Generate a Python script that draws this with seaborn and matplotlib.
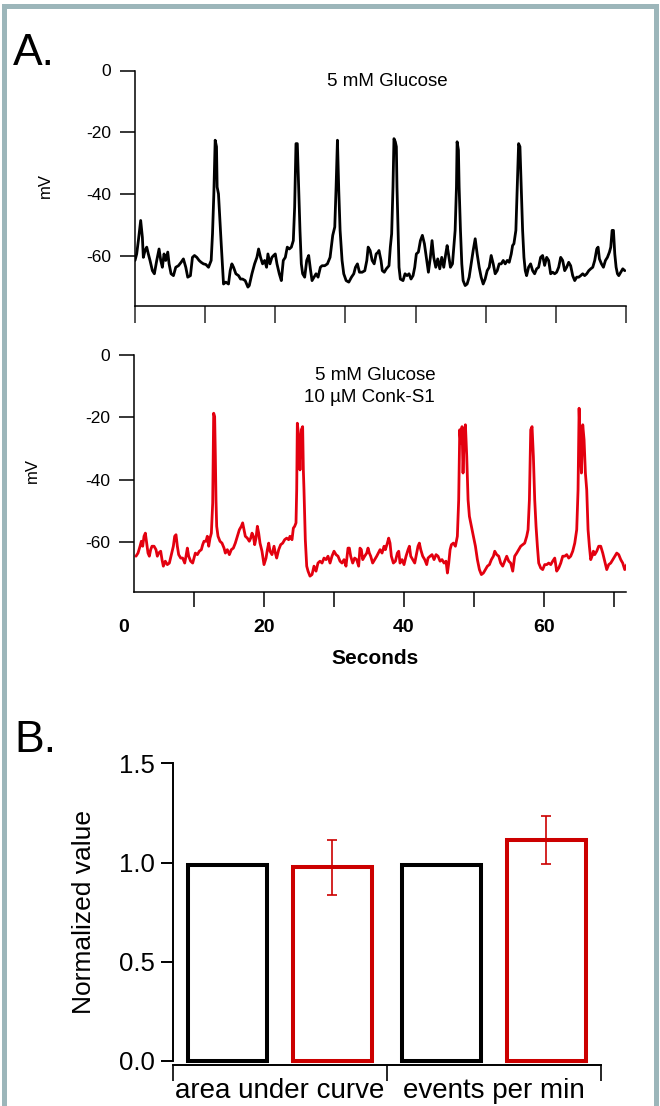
import numpy as np
import pandas as pd
import seaborn as sns
import matplotlib.pyplot as plt
from matplotlib.patches import Rectangle

# ---- data ----
# panel A, top trace: 5 mM glucose (seconds, mV)
glu_t = [0.00, 0.24, 0.48, 0.81, 1.05, 1.19, 1.43, 1.67, 1.90, 2.14,
         2.48, 2.76, 3.10, 3.43, 3.67, 3.90, 4.14, 4.38, 4.67, 4.86,
         5.14, 5.48, 5.81, 6.19, 6.57, 6.90, 7.24, 7.52, 7.90, 8.19,
         8.48, 8.81, 9.14, 9.43, 9.76, 10.10, 10.48, 10.86, 11.05, 11.24,
         11.43, 11.62, 11.71, 11.90, 12.10, 12.29, 12.48, 12.62, 12.95, 13.33,
         13.57, 13.81, 14.05, 14.38, 14.76, 15.05, 15.33, 15.71, 16.10, 16.29,
         16.67, 17.05, 17.38, 17.62, 17.90, 18.19, 18.48, 18.76, 18.95, 19.24,
         19.52, 19.76, 20.00, 20.24, 20.57, 20.86, 21.14, 21.43, 21.71, 22.00,
         22.29, 22.57, 22.76, 22.95, 23.14, 23.33, 23.52, 23.71, 23.90, 24.19,
         24.48, 24.76, 25.00, 25.24, 25.52, 25.81, 26.10, 26.43, 26.67, 27.05,
         27.43, 27.81, 28.19, 28.48, 28.67, 28.86, 29.05, 29.24, 29.52, 29.76,
         30.10, 30.48, 30.86, 31.19, 31.43, 31.71, 32.00, 32.38, 32.76, 33.05,
         33.24, 33.52, 33.81, 34.10, 34.38, 34.67, 34.78, 35.07, 35.26, 35.54,
         35.83, 36.21, 36.40, 36.59, 36.78, 36.92, 37.11, 37.26, 37.35, 37.50,
         37.64, 37.83, 38.21, 38.50, 38.78, 39.07, 39.35, 39.64, 39.88, 40.11,
         40.40, 40.69, 40.97, 41.26, 41.54, 41.83, 42.11, 42.35, 42.59, 42.88,
         43.16, 43.45, 43.73, 44.02, 44.30, 44.50, 44.69, 44.97, 45.26, 45.45,
         45.64, 45.83, 45.92, 46.11, 46.21, 46.40, 46.59, 46.78, 47.07, 47.35,
         47.64, 47.92, 48.21, 48.50, 48.78, 49.07, 49.35, 49.64, 49.92, 50.21,
         50.50, 50.78, 51.07, 51.35, 51.64, 51.92, 52.21, 52.50, 52.78, 53.07,
         53.35, 53.64, 53.83, 54.02, 54.30, 54.50, 54.69, 54.88, 55.07, 55.26,
         55.45, 55.64, 55.83, 56.11, 56.40, 56.69, 56.97, 57.26, 57.54, 57.83,
         58.11, 58.40, 58.69, 58.97, 59.26, 59.54, 59.83, 60.11, 60.40, 60.69,
         60.97, 61.26, 61.54, 61.83, 62.11, 62.40, 62.69, 62.97, 63.26, 63.54,
         63.83, 64.11, 64.40, 64.69, 64.97, 65.26, 65.54, 65.83, 66.02, 66.21,
         66.50, 66.78, 67.07, 67.35, 67.64, 67.83, 68.02, 68.21, 68.40, 68.59,
         68.78, 68.97, 69.26, 69.54, 69.83]
glu_mv = [-61.3, -59.2, -54.9, -48.4, -53.8, -60.3, -58.1, -57.0, -59.2, -61.3,
          -64.6, -65.6, -61.3, -57.6, -61.3, -63.5, -59.2, -61.3, -58.6, -62.4,
          -65.6, -66.2, -63.5, -63.0, -61.9, -60.8, -63.5, -66.7, -66.2, -60.3,
          -59.7, -60.3, -61.3, -61.9, -62.4, -62.6, -63.5, -61.3, -52.7, -39.8,
          -22.5, -24.6, -37.6, -39.8, -48.4, -55.9, -63.5, -68.9, -68.3, -68.9,
          -64.6, -62.4, -63.5, -65.6, -66.2, -67.3, -67.3, -67.8, -69.9, -69.4,
          -65.6, -62.4, -60.3, -57.6, -60.3, -62.4, -61.3, -63.5, -59.2, -62.4,
          -60.3, -59.7, -59.2, -62.4, -65.6, -67.8, -61.3, -60.3, -57.0, -57.6,
          -57.0, -54.9, -44.1, -23.6, -23.6, -37.6, -51.6, -62.4, -65.6, -66.7,
          -61.3, -59.7, -64.0, -67.8, -66.7, -65.6, -66.7, -63.5, -63.0, -63.0,
          -62.4, -60.3, -53.2, -50.5, -37.6, -22.5, -38.7, -51.6, -61.3, -65.6,
          -67.8, -68.3, -66.7, -65.6, -63.5, -62.4, -65.1, -65.1, -64.6, -61.3,
          -57.0, -58.1, -61.3, -62.4, -59.2, -58.6, -58.1, -61.3, -64.6, -65.1,
          -64.0, -63.0, -57.0, -52.7, -37.6, -22.0, -23.0, -24.6, -37.6, -51.6,
          -63.5, -67.3, -67.8, -65.6, -66.2, -65.6, -67.3, -66.2, -63.5, -59.2,
          -58.6, -54.9, -53.2, -55.9, -60.3, -65.1, -60.3, -54.9, -60.3, -63.5,
          -60.8, -64.0, -60.3, -63.5, -59.2, -56.5, -59.2, -63.5, -62.4, -57.0,
          -51.6, -37.6, -23.0, -25.7, -37.6, -51.6, -62.4, -67.8, -69.4, -68.9,
          -66.7, -62.4, -58.1, -54.3, -59.2, -63.5, -66.7, -68.9, -67.3, -64.6,
          -63.5, -59.7, -62.4, -65.6, -64.6, -62.4, -62.4, -61.3, -62.4, -61.3,
          -61.9, -59.2, -56.5, -55.9, -51.6, -37.6, -23.6, -24.6, -37.6, -51.6,
          -60.3, -64.6, -66.2, -63.5, -62.4, -64.6, -65.6, -64.0, -63.5, -60.3,
          -59.7, -62.9, -60.3, -61.3, -65.6, -65.1, -65.6, -65.1, -63.5, -60.3,
          -61.3, -64.6, -63.5, -61.9, -63.0, -66.2, -67.8, -66.7, -66.7, -66.2,
          -65.6, -66.2, -65.6, -64.6, -64.0, -63.5, -61.3, -57.6, -57.0, -60.8,
          -62.4, -63.5, -61.3, -60.3, -58.6, -57.0, -51.6, -51.6, -59.2, -63.5,
          -65.6, -66.2, -65.1, -64.0, -64.6]

# panel A, bottom trace: 5 mM glucose + 10 uM Conk-S1 (seconds, mV)
conk_t = [1.71, 2.00, 2.29, 2.48, 2.67, 2.86, 3.05, 3.24, 3.43, 3.62,
          3.81, 4.00, 4.29, 4.57, 4.76, 4.95, 5.24, 5.43, 5.62, 5.90,
          6.19, 6.48, 6.76, 7.05, 7.24, 7.43, 7.62, 7.81, 8.10, 8.38,
          8.67, 8.86, 9.05, 9.24, 9.52, 9.81, 10.00, 10.19, 10.48, 10.76,
          11.05, 11.24, 11.43, 11.71, 11.90, 12.10, 12.29, 12.48, 12.67, 12.81,
          12.95, 13.05, 13.14, 13.24, 13.43, 13.71, 14.00, 14.29, 14.48, 14.76,
          15.05, 15.33, 15.62, 15.90, 16.19, 16.48, 16.76, 16.95, 17.14, 17.33,
          17.62, 17.90, 18.10, 18.29, 18.48, 18.67, 18.86, 19.05, 19.24, 19.43,
          19.71, 20.00, 20.29, 20.48, 20.67, 20.86, 21.14, 21.43, 21.62, 21.81,
          22.10, 22.38, 22.67, 22.95, 23.24, 23.52, 23.71, 24.00, 24.19, 24.38,
          24.57, 24.67, 24.76, 24.95, 25.14, 25.33, 25.52, 25.62, 25.71, 25.90,
          26.10, 26.29, 26.57, 26.86, 27.14, 27.43, 27.71, 28.00, 28.29, 28.57,
          28.86, 29.14, 29.43, 29.71, 30.00, 30.29, 30.57, 30.86, 31.14, 31.43,
          31.71, 32.00, 32.19, 32.38, 32.67, 32.95, 33.24, 33.52, 33.71, 33.90,
          34.10, 34.38, 34.67, 34.86, 35.05, 35.24, 35.52, 35.81, 36.10, 36.58,
          36.86, 37.15, 37.34, 37.62, 37.81, 38.00, 38.19, 38.48, 38.77, 39.05,
          39.24, 39.43, 39.72, 40.00, 40.29, 40.58, 40.77, 40.96, 41.24, 41.53,
          41.81, 42.00, 42.19, 42.39, 42.67, 42.96, 43.24, 43.43, 43.72, 44.00,
          44.29, 44.58, 44.86, 45.15, 45.43, 45.72, 46.00, 46.20, 46.39, 46.58,
          46.77, 47.05, 47.34, 47.62, 47.81, 47.96, 48.10, 48.29, 48.43, 48.58,
          48.77, 48.96, 49.15, 49.34, 49.62, 49.91, 50.20, 50.48, 50.77, 51.05,
          51.34, 51.62, 51.91, 52.20, 52.48, 52.77, 52.96, 53.24, 53.53, 53.81,
          54.10, 54.39, 54.67, 54.96, 55.24, 55.53, 55.81, 56.10, 56.39, 56.67,
          56.96, 57.24, 57.53, 57.72, 57.91, 58.10, 58.29, 58.48, 58.67, 58.86,
          59.05, 59.24, 59.53, 59.81, 60.10, 60.39, 60.67, 60.96, 61.24, 61.53,
          61.81, 62.10, 62.39, 62.67, 62.96, 63.24, 63.53, 63.81, 64.10, 64.39,
          64.67, 64.86, 65.01, 65.15, 65.34, 65.53, 65.72, 65.91, 66.10, 66.29,
          66.48, 66.67, 66.86, 67.05, 67.24, 67.53, 67.81, 68.10, 68.39, 68.67,
          68.96, 69.24, 69.53, 69.82, 70.10, 70.39, 70.67, 70.96, 71.24, 71.53,
          71.81]
conk_mv = [-64.6, -63.6, -61.4, -59.8, -61.4, -58.2, -57.2, -60.4, -63.6, -64.6,
           -62.5, -61.4, -61.4, -62.5, -64.6, -63.6, -63.0, -65.7, -67.8, -66.2,
           -67.3, -66.8, -64.1, -61.4, -58.2, -57.7, -61.4, -64.1, -65.2, -65.2,
           -66.8, -64.6, -62.0, -64.6, -66.2, -66.8, -65.2, -63.6, -64.1, -63.0,
           -62.5, -60.9, -59.8, -59.8, -58.2, -61.4, -58.8, -57.2, -47.5, -18.7,
           -19.8, -32.6, -46.5, -55.0, -58.2, -59.8, -60.4, -62.0, -63.6, -62.5,
           -64.1, -62.5, -62.0, -60.4, -58.2, -56.1, -55.0, -53.9, -56.1, -58.2,
           -58.8, -59.8, -58.8, -57.2, -58.2, -60.9, -58.8, -55.0, -57.2, -60.4,
           -63.0, -67.3, -65.2, -62.5, -60.4, -63.0, -64.1, -61.4, -63.6, -65.2,
           -62.5, -60.9, -60.4, -59.3, -58.8, -59.3, -58.2, -59.3, -55.6, -55.0,
           -53.9, -43.3, -21.9, -26.2, -36.9, -24.0, -23.0, -36.9, -43.3, -59.3,
           -67.8, -69.4, -71.0, -70.5, -67.8, -69.4, -66.8, -66.2, -66.8, -65.2,
           -65.7, -64.6, -66.8, -64.6, -63.0, -64.1, -64.6, -66.2, -66.8, -65.7,
           -67.8, -62.0, -62.0, -64.6, -66.8, -65.2, -65.7, -67.8, -62.0, -62.5,
           -65.7, -64.6, -63.6, -62.0, -63.6, -64.6, -66.8, -65.7, -64.6, -62.5,
           -63.6, -61.4, -62.5, -60.4, -58.8, -60.4, -64.6, -66.8, -66.2, -63.6,
           -63.0, -66.8, -65.7, -67.3, -64.6, -62.5, -61.4, -64.6, -65.7, -66.8,
           -63.6, -61.4, -60.4, -62.5, -64.6, -65.7, -67.3, -65.2, -64.6, -64.1,
           -65.7, -64.1, -64.6, -66.2, -65.7, -66.8, -66.2, -70.0, -66.8, -62.5,
           -60.9, -60.4, -61.4, -58.2, -46.5, -24.0, -28.3, -23.0, -37.9, -27.2,
           -22.4, -32.6, -46.5, -51.8, -55.0, -58.2, -61.4, -65.7, -68.9, -70.5,
           -70.0, -68.9, -67.8, -67.3, -65.7, -64.6, -63.0, -64.1, -64.6, -66.8,
           -67.8, -66.2, -64.6, -66.2, -66.8, -69.4, -64.6, -63.6, -62.5, -61.4,
           -60.9, -60.4, -58.2, -56.1, -46.5, -24.0, -23.0, -32.6, -46.5, -55.0,
           -61.4, -66.8, -68.4, -68.9, -67.3, -67.3, -66.8, -67.3, -66.2, -65.2,
           -69.4, -68.4, -66.8, -64.6, -64.6, -64.1, -65.2, -64.6, -63.0, -60.4,
           -56.1, -43.3, -17.1, -27.2, -37.9, -22.4, -27.2, -37.9, -43.3, -56.1,
           -61.4, -65.7, -64.6, -63.0, -64.1, -63.0, -61.4, -61.4, -63.6, -66.2,
           -68.9, -67.3, -66.8, -65.7, -64.6, -63.6, -64.1, -65.7, -66.8, -68.9,
           -67.3]

# panel B: normalized summary values
measures = ["area under curve", "events per min"]
conditions = ["5 mM Glucose", "10 µM Conk-S1"]
glucose_mean = [0.99, 0.99]
glucose_sem = [0.005, 0.005]
conk_mean = [0.975, 1.115]
conk_sem = [0.137, 0.12]

mv_ticks = [0, -20, -40, -60]
bar_ticks = [0.0, 0.5, 1.0, 1.5]

assert len(glu_t) == len(glu_mv) and len(conk_t) == len(conk_mv)

# ---- style ----
sns.set_theme(style="ticks")
plt.rcParams['font.family'] = ['Liberation Sans', 'DejaVu Sans']
plt.rcParams['axes.unicode_minus'] = False

black = "#000000"
trace_red = "#e3000f"
bar_red = "#cc0000"
frame_col = "#9cb6ba"

W, H = 660, 1106
fig = plt.figure(figsize=(W / 100, H / 100), dpi=100)


def px_axes(left, top, right, bottom):
    return fig.add_axes([left / W, 1 - bottom / H, (right - left) / W, (bottom - top) / H])


def style_trace_axes(ax):
    for s in ["top", "right"]:
        ax.spines[s].set_visible(False)
    for s in ["left", "bottom"]:
        ax.spines[s].set_linewidth(1.1)
        ax.spines[s].set_color(black)
    ax.set_ylim(-76, 0)
    ax.set_yticks(mv_ticks)
    ax.set_yticklabels([str(v) for v in mv_ticks])
    ax.tick_params(axis="y", direction="out", length=11, width=1.1,
                   labelsize=12.5, pad=6, colors=black)
    ax.set_ylabel("mV", fontsize=12, color=black)
    ax.yaxis.set_label_coords(-0.168, 0.51)


# ---- panel A top ----
ax1 = px_axes(135, 70.5, 626, 306)
sns.lineplot(x=glu_t, y=glu_mv, ax=ax1, color=black, lw=2.0,
             sort=False, estimator=None)
ax1.set_xlim(0, 70)
style_trace_axes(ax1)
ax1.set_xticks(range(0, 71, 10))
ax1.tick_params(axis="x", direction="out", length=12, width=1.1, labelbottom=False)
ax1.set_xlabel("")
ax1.text(36, -3.6, "5 mM Glucose", fontsize=13.5, ha="center", va="center", color=black)

# ---- panel A bottom ----
ax2 = px_axes(124, 355, 626, 591.7)
sns.lineplot(x=conk_t, y=conk_mv, ax=ax2, color=trace_red, lw=2.0,
             sort=False, estimator=None)
ax2.set_xlim(0, 71.71)
style_trace_axes(ax2)
ax2.spines["left"].set_position(("data", 1.43))
ax2.spines["bottom"].set_bounds(1.43, 71.71)
ax2.set_xticks(range(0, 71, 10))
ax2.set_xticklabels(["0", "", "20", "", "40", "", "60", ""])
ax2.tick_params(axis="x", direction="out", length=11, width=1.1, pad=9,
                labelsize=14, colors=black)
ax2.xaxis.get_major_ticks()[0].tick1line.set_visible(False)
for lab in ax2.get_xticklabels():
    lab.set_fontweight("bold")
ax2.set_xlabel("Seconds", fontsize=15, fontweight="bold", color=black)
ax2.xaxis.set_label_coords(0.5, -0.24)
ax2.text(35.9, -6.7, "5 mM Glucose", fontsize=13.5, ha="center", va="center", color=black)
ax2.text(35.0, -13.8, "10 µM Conk-S1", fontsize=13.5, ha="center", va="center", color=black)

# ---- panel B ----
df = pd.DataFrame({
    "measure": measures * 2,
    "condition": [conditions[0]] * 2 + [conditions[1]] * 2,
    "value": glucose_mean + conk_mean,
})
ax3 = px_axes(173, 763.3, 601, 1061)
sns.barplot(data=df, x="measure", y="value", hue="condition",
            palette=[black, bar_red], fill=False, linewidth=2.9,
            width=0.98, gap=0.25, errorbar=None, legend=False, ax=ax3)
for cont, sems, col in zip(ax3.containers, [glucose_sem, conk_sem], [black, bar_red]):
    for bar, s in zip(cont, sems):
        bar.set_joinstyle("miter")
        bar.set_clip_on(False)
        xc = bar.get_x() + bar.get_width() / 2
        ax3.errorbar(xc, bar.get_height(), yerr=s, fmt="none", ecolor=col,
                     elinewidth=1.2, capsize=3.4, capthick=1.2, clip_on=False)

ax3.set_xlim(-0.5, 1.5)
ax3.set_ylim(0, 1.5)
for s in ["top", "right"]:
    ax3.spines[s].set_visible(False)
for s in ["left", "bottom"]:
    ax3.spines[s].set_linewidth(1.4)
    ax3.spines[s].set_color(black)
ax3.spines["bottom"].set_position(("outward", 3))
ax3.set_yticks(bar_ticks)
ax3.set_yticklabels([f"{v:.1f}" for v in bar_ticks])
ax3.tick_params(axis="y", direction="out", length=9, width=1.4, labelsize=18.5,
                pad=4, colors=black)
ax3.set_xticks([-0.5, 0.5, 1.5])
ax3.set_xticklabels([])
ax3.set_xticks([0, 1], minor=True)
ax3.set_xticklabels(measures, minor=True)
ax3.tick_params(axis="x", which="major", direction="out", length=11.5, width=1.4)
ax3.tick_params(axis="x", which="minor", length=0, labelsize=20, pad=9, colors=black)
ax3.set_xlabel("")
ax3.set_ylabel("Normalized value", fontsize=19, color=black)
ax3.yaxis.set_label_coords(-0.18, 0.5)

# ---- panel letters and frame ----
fig.text(13 / W, 1 - 65 / H, "A.", fontsize=32, ha="left", va="baseline", color=black)
fig.text(14 / W, 1 - 752 / H, "B.", fontsize=32, ha="left", va="baseline", color=black)
fig.patches.append(Rectangle((4 / W, -0.05), 652 / W, 1.05 - 6 / H,
                             transform=fig.transFigure, fill=False,
                             edgecolor=frame_col, linewidth=3.6))

fig.savefig("out.png", dpi=100)
